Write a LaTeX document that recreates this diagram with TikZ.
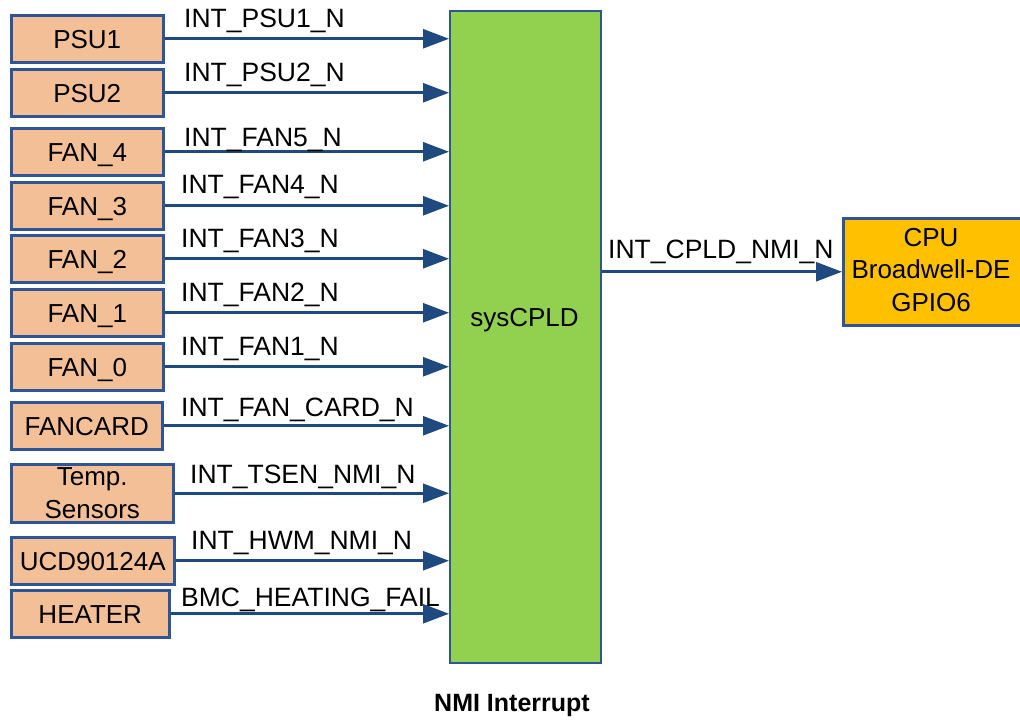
\documentclass[tikz,border=0pt]{standalone}
\usepackage{fontspec}
\setmainfont{Liberation Sans}
\usetikzlibrary{arrows.meta}

\definecolor{peach}{HTML}{F3BF97}
\definecolor{edge}{HTML}{2F5597}
\definecolor{wire}{HTML}{1F4A7F}
\definecolor{cpldgreen}{HTML}{92D050}
\definecolor{cpuamber}{HTML}{FFC000}

\begin{document}
\begin{tikzpicture}[x=1pt,y=-1pt,
  srcbase/.style={draw=edge, fill=peach, line width=2.5pt, inner sep=0pt,
    anchor=north west, minimum width=152pt, minimum height=47pt,
    font=\fontsize{26}{33}\selectfont},
  src/.style={srcbase, text height=18.6pt, text depth=0pt},
  sig/.style={draw=wire, line width=2.6pt, -{Triangle[length=26pt,width=19pt]}},
  lbl/.style={anchor=base west, inner sep=0pt, font=\fontsize{26.5}{30}\selectfont}]
\useasboundingbox (0,0) rectangle (1020,721);

% interrupt sources
\node[src] (psu1) at (10,14) {PSU1};
\node[src] (psu2) at (10,68) {PSU2};
\node[src] (fan4) at (10,127) {FAN\_4};
\node[src] (fan3) at (10,181) {FAN\_3};
\node[src] (fan2) at (10,234) {FAN\_2};
\node[src] (fan1) at (10,288) {FAN\_1};
\node[src] (fan0) at (10,342) {FAN\_0};
\node[src, minimum width=151pt] (fancard) at (10,401) {FANCARD};
\node[srcbase, minimum width=162pt, minimum height=58pt, align=center]
  (temp) at (10,463) {Temp.\\Sensors};
\node[src, minimum width=163pt] (ucd) at (10,536) {UCD90124A};
\node[src, minimum width=158pt] (heater) at (10,589) {HEATER};

% system CPLD
\node[draw=edge, fill=cpldgreen, line width=2.2pt, anchor=north west,
  minimum width=151pt, minimum height=652pt, inner sep=0pt] (cpld) at (449,10) {};
\node[font=\fontsize{26}{30}\selectfont, inner sep=0pt] (cpldtext) at (524.5,320) {sysCPLD};

% CPU
\node[draw=edge, fill=cpuamber, line width=2.5pt, anchor=north west,
  minimum width=190pt, minimum height=107pt, inner sep=0pt] (cpu) at (842,217) {};
\node[align=center, inner sep=0pt, font=\fontsize{26}{32.5}\selectfont]
  (cputext) at (931,270) {CPU\\Broadwell-DE\\GPIO6};

% interrupt lines
\foreach \n in {psu1,psu2,fan4,fan3,fan2,fan1,fan0,fancard,temp,ucd,heater}
  \draw[sig] (\n.east) -- (\n.east -| cpld.west);
\draw[sig] (cpld.east |- cpu.west) -- (cpu.west);

% signal names
\node[lbl] (l1) at (184,27) {INT\_PSU1\_N};
\node[lbl] (l2) at (184,81) {INT\_PSU2\_N};
\node[lbl] (l3) at (184,146) {INT\_FAN5\_N};
\node[lbl] (l4) at (181,193) {INT\_FAN4\_N};
\node[lbl] (l5) at (181,247) {INT\_FAN3\_N};
\node[lbl] (l6) at (181,301) {INT\_FAN2\_N};
\node[lbl] (l7) at (181,355) {INT\_FAN1\_N};
\node[lbl] (l8) at (181,416) {INT\_FAN\_CARD\_N};
\node[lbl] (l9) at (190,483) {INT\_TSEN\_NMI\_N};
\node[lbl] (l10) at (191,549) {INT\_HWM\_NMI\_N};
\node[lbl] (l11) at (181,606) {BMC\_HEATING\_FAIL};
\node[lbl] (l12) at (608,258) {INT\_CPLD\_NMI\_N};

% caption
\node[anchor=base, inner sep=0pt, font=\fontsize{25}{30}\selectfont\bfseries]
  (caption) at (512,711) {NMI Interrupt};
\end{tikzpicture}
\end{document}
